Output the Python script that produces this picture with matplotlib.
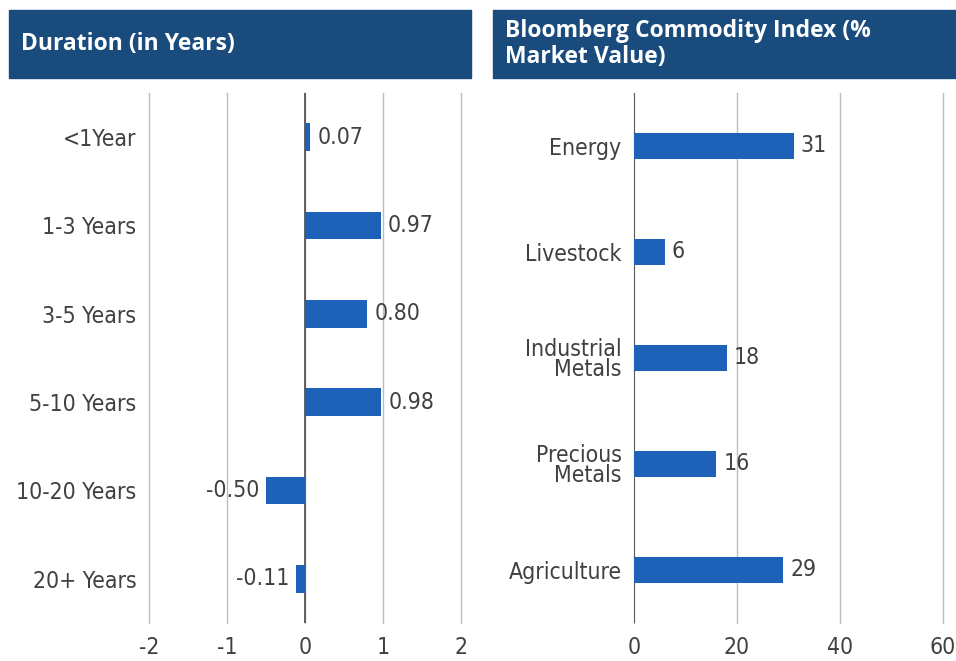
import matplotlib
matplotlib.use("Agg")
import matplotlib.pyplot as plt
from matplotlib.patches import Rectangle

dur_cats = ["<1Year", "1-3 Years", "3-5 Years", "5-10 Years", "10-20 Years", "20+ Years"]
dur_vals = [0.07, 0.97, 0.80, 0.98, -0.50, -0.11]
dur_labels = ["0.07", "0.97", "0.80", "0.98", "-0.50", "-0.11"]
dur_ticks = [-2, -1, 0, 1, 2]

com_cats = ["Energy", "Livestock", "Industrial\nMetals", "Precious\nMetals", "Agriculture"]
com_vals = [31, 6, 18, 16, 29]
com_ticks = [0, 20, 40, 60]

plt.rcParams['font.family'] = ['DejaVu Sans']
plt.rcParams['font.stretch'] = 'condensed'

BAR = "#1d62b8"
HDR = "#194b7d"
TXT = "#404040"
GRID = "#bdbdbd"
FS = 16.5

fig = plt.figure(figsize=(9.56, 6.61), dpi=100)
W, H = 956, 661

def header(x0, x1, text):
    fig.patches.append(Rectangle((x0 / W, 1 - 78 / H), (x1 - x0) / W, 68 / H,
                                 transform=fig.transFigure, color=HDR, zorder=0))
    fig.text((x0 + 12) / W, 1 - 44 / H, text, color="white", fontsize=16.5,
             fontweight="bold", family=["Open Sans", "DejaVu Sans"], stretch="normal",
             va="center", ha="left", linespacing=1.15)

header(9, 471, "Duration (in Years)")
header(493, 955, "Bloomberg Commodity Index (%\nMarket Value)")

def style(ax, ticks):
    for s in ax.spines.values():
        s.set_visible(False)
    ax.set_xticks(ticks)
    ax.set_xticklabels([str(t) for t in ticks])
    ax.tick_params(axis="both", length=0, labelsize=FS, colors=TXT)
    ax.tick_params(axis="x", pad=9)
    ax.grid(axis="x", color=GRID, linewidth=1)
    for gl in ax.get_xgridlines():
        gl.set_clip_on(False)
    ax.set_axisbelow(True)
    ax.axvline(0, color="#555555", linewidth=1.3, zorder=1)

# left
ax1 = fig.add_axes([149 / W, 1 - 623 / H, (461 - 149) / W, (623 - 93) / H])
y1 = list(range(len(dur_cats)))
ax1.barh(y1, dur_vals, height=0.31, color=BAR, zorder=2)
ax1.set_xlim(-2, 2)
ax1.set_ylim(len(dur_cats) - 0.5, -0.5)
ax1.set_yticks(y1)
ax1.set_yticklabels(dur_cats)
style(ax1, dur_ticks)
ax1.tick_params(axis="y", pad=9)
for y, v, lab in zip(y1, dur_vals, dur_labels):
    if v >= 0:
        ax1.annotate(lab, (v, y), xytext=(5, 0), textcoords="offset points",
                     ha="left", va="center", fontsize=FS, color=TXT)
    else:
        ax1.annotate(lab, (v, y), xytext=(-5, 0), textcoords="offset points",
                     ha="right", va="center", fontsize=FS, color=TXT)

# right
ax2 = fig.add_axes([634 / W, 1 - 623 / H, (943 - 634) / W, (623 - 93) / H])
y2 = list(range(len(com_cats)))
ax2.barh(y2, com_vals, height=0.25, color=BAR, zorder=2)
ax2.set_xlim(0, 60)
ax2.set_ylim(len(com_cats) - 0.5, -0.5)
ax2.set_yticks(y2)
ax2.set_yticklabels(com_cats, linespacing=0.85)
style(ax2, com_ticks)
ax2.tick_params(axis="y", pad=9)
for y, v in zip(y2, com_vals):
    ax2.annotate(str(v), (v, y), xytext=(5, 0), textcoords="offset points",
                 ha="left", va="center", fontsize=FS, color=TXT)

fig.savefig("out.png", dpi=100)
